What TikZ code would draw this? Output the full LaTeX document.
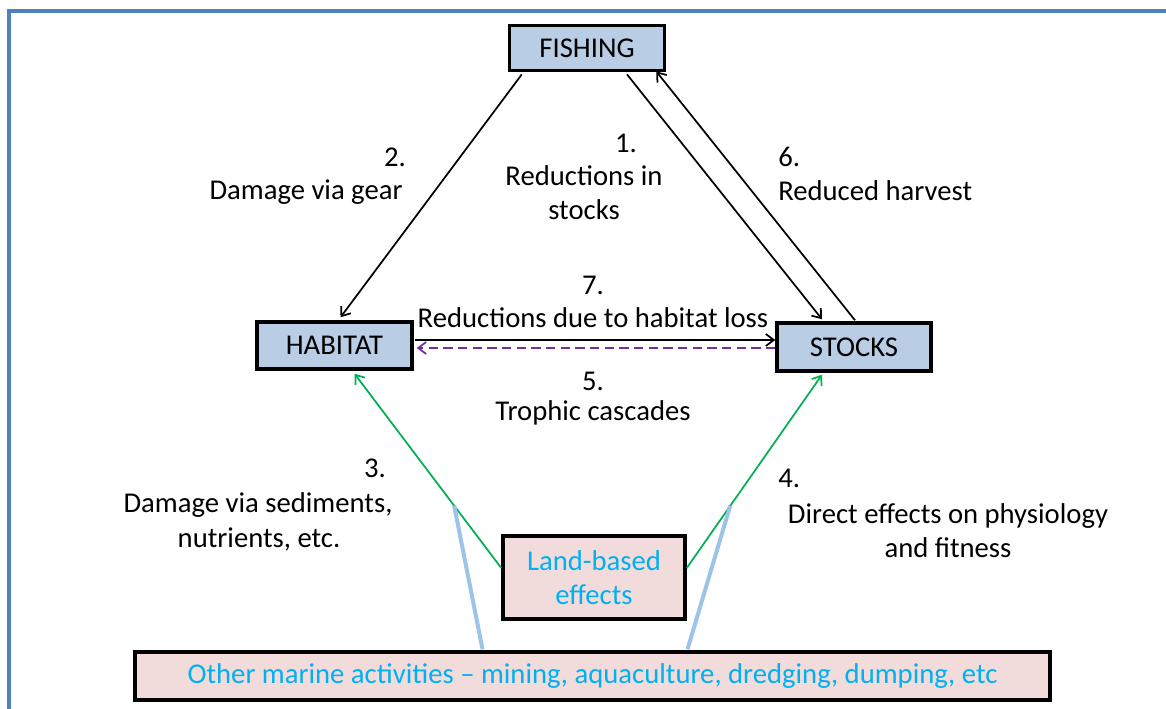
\documentclass[tikz,border=0pt]{standalone}
\usepackage{fontspec}
\setmainfont{Carlito}
\usetikzlibrary{arrows.meta,calc,shadows}
\definecolor{boxblue}{HTML}{B9CDE5}
\definecolor{boxpink}{HTML}{F2DCDB}
\definecolor{txtcyan}{HTML}{00B0F0}
\definecolor{frameblue}{HTML}{4F81BD}
\definecolor{lineblue}{HTML}{9DC3E6}
\definecolor{arrgreen}{HTML}{00B050}
\definecolor{arrpurple}{HTML}{7030A0}
\begin{document}
\begin{tikzpicture}[x=0.75pt,y=-0.75pt,
  txt/.style={font=\fontsize{21.5}{25.5}\selectfont},
  box/.style={txt,draw=black,line width=2.6pt,inner sep=0pt,align=center,
    drop shadow={shadow xshift=1.2pt,shadow yshift=-1.2pt,fill=black!35,opacity=1}},
  bluebox/.style={box,fill=boxblue},
  pinkbox/.style={box,fill=boxpink,text=txtcyan},
  lab/.style={txt,inner sep=0pt,text height=12pt,text depth=0pt},
  arr/.style={line width=1.3pt,-{Straight Barb[length=6pt,width=9pt]}},
  garr/.style={arr,draw=arrgreen},
  connector/.style={draw=lineblue,line width=3pt}
]
\useasboundingbox (0,0) rectangle (1166,709);
\draw[frameblue,line width=3pt] (9,709) -- (9,11) -- (1166,11);

\node[bluebox,minimum width=116.25pt,minimum height=34pt] (fish) at (587,48) {FISHING};
\node[bluebox,minimum width=116.25pt,minimum height=35.25pt] (hab) at (334.5,345.5) {HABITAT};
\node[bluebox,minimum width=115.5pt,minimum height=36pt] (stk) at (854,347) {STOCKS};
\node[pinkbox,minimum width=136.5pt,minimum height=62pt] (land) at (594,577.5) {Land-based\\effects};
\node[pinkbox,minimum width=686.25pt,minimum height=36pt] (other) at (592.5,676) {Other marine activities -- mining, aquaculture, dredging, dumping, etc};

% black arrows
\draw[arr] ($(fish.south west)+(14,2)$) -- ($(hab.north)+(6,-3)$);
\draw[arr] ($(fish.south)+(40,2)$) -- ($(stk.north)+(-32,-2)$);
\draw[arr] ($(stk.north)+(1,-1)$) -- ($(fish.south east)+(-10,-1)$);
\draw[arr] ($(hab.east)+(1,-5.5)$) -- ($(stk.west)+(0,-7)$);
\draw[arr,draw=arrpurple,dashed,dash pattern=on 7pt off 4pt] ($(stk.west)+(0,1)$) -- ($(hab.east)+(3,2.5)$);

% green arrows
\coordinate (g3s) at ($(land.west)+(0,-9.5)$);
\coordinate (g3e) at ($(hab.south)+(20,3)$);
\coordinate (g4s) at ($(land.east)+(0,-9.5)$);
\coordinate (g4e) at ($(stk.south)+(-32,2)$);
\draw[garr] (g3s) -- (g3e);
\draw[garr] (g4s) -- (g4e);
\coordinate (b3) at ($(g3s)!0.321!(g3e)$);
\coordinate (b4) at ($(g4s)!0.321!(g4e)$);
\draw[connector] ($(other.north)+(-110,-1)$) -- (b3);
\draw[connector] ($(other.north)+(95,-1)$) -- (b4);

% labels
\node[lab] (l2a) at (395,159) {2.};
\node[lab] (l2b) at (306,192) {Damage via gear};
\node[lab] (l1a) at (626,145) {1.};
\node[lab] (l1b) at (584,178) {Reductions in};
\node[lab] (l1c) at (584,212) {stocks};
\node[lab,anchor=west] (l6a) at (778,159) {6.};
\node[lab,anchor=west] (l6b) at (778,193) {Reduced harvest};
\node[lab] (l7a) at (593,286) {7.};
\node[lab] (l7b) at (593,319) {Reductions due to habitat loss};
\node[lab] (l5a) at (593,382) {5.};
\node[lab] (l5b) at (593,412) {Trophic cascades};
\node[lab] (l3a) at (375,469) {3.};
\node[lab] (l3b) at (258,504) {Damage via sediments,};
\node[lab] (l3c) at (259,539) {nutrients, etc.};
\node[lab,anchor=west] (l4a) at (778,479) {4.};
\node[lab] (l4b) at (948,515) {Direct effects on physiology};
\node[lab] (l4c) at (948,549) {and fitness};
\end{tikzpicture}
\end{document}
